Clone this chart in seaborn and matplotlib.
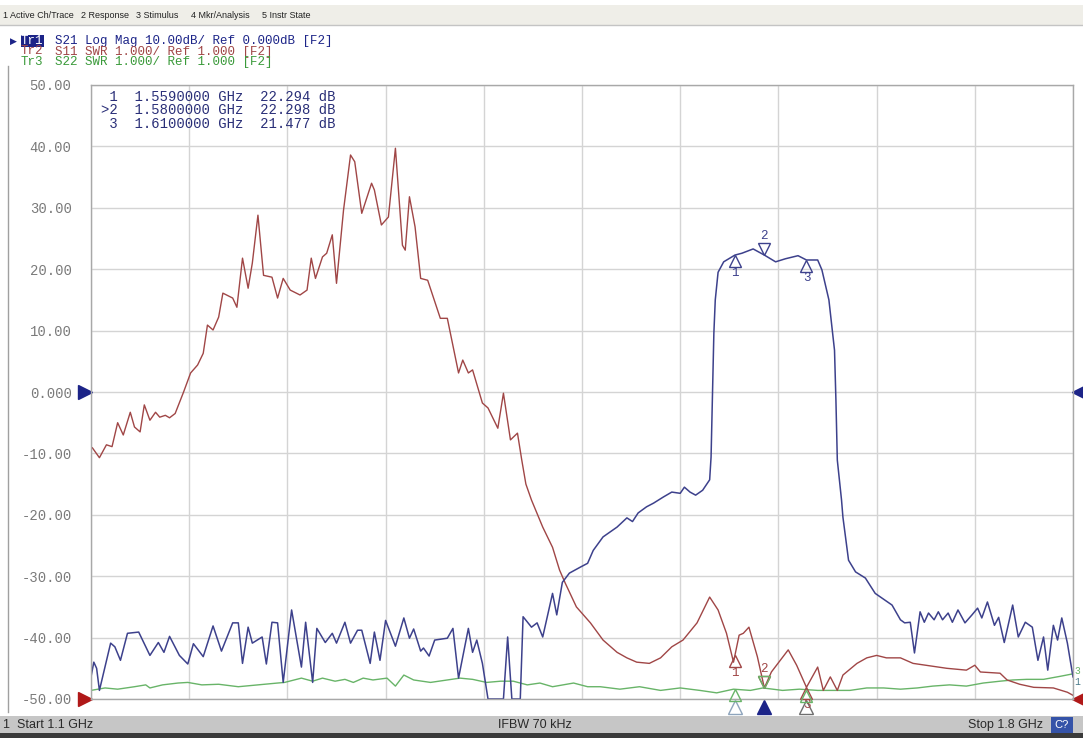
import numpy as np
import pandas as pd
import matplotlib
matplotlib.use("Agg")
import matplotlib.pyplot as plt
from matplotlib.patches import Rectangle
from matplotlib.transforms import offset_copy
import seaborn as sns

# --- trace data (GHz, dB) ---
s21_freq = [1.100, 1.102, 1.104, 1.106, 1.114, 1.117, 1.121, 1.126, 1.134, 1.142,
            1.148, 1.152, 1.156, 1.163, 1.169, 1.173, 1.180, 1.187, 1.193, 1.201,
            1.205, 1.208, 1.212, 1.215, 1.222, 1.225, 1.229, 1.233, 1.237, 1.243,
            1.250, 1.253, 1.258, 1.261, 1.267, 1.272, 1.275, 1.281, 1.285, 1.290,
            1.293, 1.299, 1.302, 1.306, 1.310, 1.317, 1.323, 1.327, 1.330, 1.335,
            1.337, 1.341, 1.345, 1.354, 1.358, 1.362, 1.369, 1.372, 1.375, 1.379,
            1.383, 1.394, 1.397, 1.400, 1.406, 1.408, 1.414, 1.418, 1.422, 1.429,
            1.432, 1.436, 1.441, 1.449, 1.454, 1.458, 1.465, 1.475, 1.482, 1.486,
            1.490, 1.496, 1.501, 1.508, 1.514, 1.520, 1.523, 1.527, 1.531, 1.536,
            1.541, 1.542, 1.543, 1.544, 1.545, 1.547, 1.551, 1.559, 1.564, 1.572,
            1.580, 1.588, 1.595, 1.604, 1.610, 1.618, 1.621, 1.626, 1.630, 1.631,
            1.632, 1.635, 1.636, 1.640, 1.645, 1.652, 1.659, 1.664, 1.671, 1.677,
            1.680, 1.684, 1.687, 1.691, 1.694, 1.697, 1.701, 1.704, 1.707, 1.711,
            1.714, 1.718, 1.723, 1.728, 1.732, 1.735, 1.739, 1.744, 1.747, 1.751,
            1.757, 1.761, 1.766, 1.771, 1.775, 1.779, 1.782, 1.786, 1.789, 1.792,
            1.796, 1.800]
s21_db = [-46.4, -44.0, -45.0, -48.6, -40.9, -41.5, -43.7, -39.3, -39.1, -42.9,
          -40.8, -42.4, -39.8, -42.9, -44.3, -41.0, -43.1, -38.1, -42.2, -37.6,
          -37.6, -44.2, -38.3, -40.9, -39.9, -44.3, -37.5, -37.6, -47.3, -35.5,
          -44.8, -37.5, -47.3, -38.5, -40.8, -39.3, -40.9, -37.5, -40.9, -38.8,
          -38.8, -44.2, -39.1, -43.7, -37.2, -41.4, -36.8, -40.1, -38.6, -42.2,
          -41.7, -43.0, -40.4, -40.1, -38.5, -46.6, -38.5, -42.4, -40.4, -44.2,
          -50.0, -50.0, -39.9, -50.0, -50.0, -36.6, -38.3, -37.6, -39.9, -32.8,
          -36.3, -31.0, -29.5, -28.5, -27.9, -25.8, -23.6, -22.0, -20.5, -21.1,
          -19.7, -18.7, -18.1, -17.1, -16.3, -16.5, -15.5, -16.3, -16.8, -16.0,
          -14.3, -10.6, -0.5, 9.6, 15.0, 19.5, 21.2, 22.3, 22.6, 23.3,
          22.3, 21.2, 21.7, 22.2, 21.5, 21.5, 19.9, 15.0, 6.8, -1.3,
          -11.1, -17.6, -20.4, -27.4, -29.3, -30.3, -32.8, -33.6, -34.7, -37.1,
          -37.6, -37.5, -42.5, -35.8, -37.5, -36.0, -37.1, -35.8, -37.1, -36.0,
          -37.5, -35.5, -37.6, -36.3, -35.2, -36.8, -34.2, -38.0, -36.7, -40.8,
          -34.7, -39.9, -37.5, -38.3, -43.7, -39.9, -45.3, -38.0, -40.4, -36.8,
          -40.9, -46.4]

s11_freq = [1.101, 1.106, 1.111, 1.115, 1.119, 1.123, 1.128, 1.131, 1.135, 1.138,
            1.142, 1.146, 1.149, 1.153, 1.156, 1.160, 1.166, 1.171, 1.176, 1.180,
            1.183, 1.187, 1.191, 1.194, 1.201, 1.204, 1.208, 1.212, 1.215, 1.219,
            1.223, 1.229, 1.233, 1.237, 1.242, 1.249, 1.254, 1.257, 1.260, 1.265,
            1.268, 1.272, 1.275, 1.280, 1.285, 1.288, 1.293, 1.300, 1.302, 1.307,
            1.312, 1.317, 1.322, 1.324, 1.327, 1.331, 1.335, 1.340, 1.349, 1.354,
            1.362, 1.365, 1.369, 1.372, 1.379, 1.383, 1.390, 1.394, 1.399, 1.404,
            1.407, 1.410, 1.414, 1.422, 1.429, 1.434, 1.438, 1.446, 1.456, 1.465,
            1.475, 1.482, 1.489, 1.498, 1.506, 1.514, 1.522, 1.532, 1.541, 1.547,
            1.553, 1.558, 1.562, 1.565, 1.569, 1.575, 1.580, 1.585, 1.597, 1.603,
            1.610, 1.618, 1.622, 1.627, 1.632, 1.636, 1.646, 1.653, 1.660, 1.667,
            1.677, 1.686, 1.698, 1.710, 1.724, 1.730, 1.734, 1.748, 1.753, 1.762,
            1.772, 1.786, 1.796, 1.800]
s11_db = [-9.1, -10.7, -8.6, -8.9, -5.0, -7.0, -3.3, -5.7, -6.5, -2.1,
          -4.6, -3.3, -4.1, -3.8, -4.2, -3.5, 0.0, 3.1, 4.4, 6.3,
          10.9, 10.1, 12.2, 16.1, 15.3, 13.8, 21.8, 16.9, 21.0, 28.8,
          19.0, 18.7, 15.3, 18.5, 16.6, 15.8, 16.6, 21.8, 18.5, 22.0,
          22.6, 25.6, 17.7, 29.6, 38.6, 37.5, 29.1, 34.0, 32.9, 27.2,
          28.5, 39.7, 23.9, 23.1, 31.8, 26.9, 18.5, 18.2, 12.0, 12.0,
          3.1, 5.2, 3.1, 3.6, -1.8, -2.6, -5.9, -0.2, -7.8, -6.7,
          -11.0, -15.0, -17.6, -22.0, -25.3, -29.0, -31.1, -35.0, -37.6, -40.4,
          -42.4, -43.3, -44.0, -44.2, -43.3, -41.5, -40.4, -37.6, -33.4, -35.5,
          -39.3, -44.0, -39.6, -39.3, -38.3, -43.1, -48.2, -45.6, -42.0, -44.5,
          -48.1, -44.8, -48.6, -46.4, -48.6, -46.1, -44.2, -43.3, -42.9, -43.3,
          -43.3, -44.2, -44.6, -45.0, -45.3, -44.5, -45.6, -45.8, -46.9, -47.6,
          -48.1, -48.2, -48.9, -49.4]

s22_freq = [1.100, 1.110, 1.119, 1.131, 1.139, 1.142, 1.151, 1.162, 1.169, 1.179,
            1.191, 1.205, 1.219, 1.233, 1.238, 1.250, 1.258, 1.265, 1.274, 1.281,
            1.287, 1.294, 1.301, 1.311, 1.317, 1.323, 1.330, 1.342, 1.354, 1.363,
            1.372, 1.382, 1.392, 1.401, 1.411, 1.420, 1.429, 1.444, 1.454, 1.463,
            1.477, 1.491, 1.506, 1.520, 1.534, 1.546, 1.558, 1.570, 1.579, 1.593,
            1.605, 1.618, 1.629, 1.641, 1.653, 1.665, 1.677, 1.689, 1.700, 1.712,
            1.724, 1.736, 1.748, 1.757, 1.767, 1.779, 1.791, 1.800]
s22_db = [-48.6, -48.2, -48.4, -48.0, -47.7, -48.2, -47.7, -47.4, -47.3, -47.7,
          -47.6, -48.0, -47.7, -47.4, -47.3, -46.6, -47.1, -46.6, -47.1, -46.8,
          -47.3, -46.6, -46.9, -46.6, -47.9, -46.1, -46.9, -47.3, -46.9, -46.6,
          -46.8, -47.3, -47.1, -47.1, -47.7, -47.4, -48.0, -47.4, -48.0, -48.0,
          -48.4, -48.0, -48.6, -48.2, -48.6, -49.0, -48.4, -48.6, -48.2, -48.6,
          -48.4, -48.6, -48.6, -48.6, -48.2, -48.2, -48.4, -48.2, -47.9, -47.7,
          -47.9, -47.4, -47.1, -46.9, -46.8, -46.8, -46.3, -45.9]

# marker table
mkr_num = ["1", "2", "3"]
mkr_freq = [1.559, 1.580, 1.610]
mkr_db = [22.294, 22.298, 21.477]
active_mkr = 1

ytick_vals = [50, 40, 30, 20, 10, 0, -10, -20, -30, -40, -50]
ytick_text = ["50.00", "40.00", "30.00", "20.00", "10.00", "0.000",
              "-10.00", "-20.00", "-30.00", "-40.00", "-50.00"]

menu_items = ["1 Active Ch/Trace", "2 Response", "3 Stimulus", "4 Mkr/Analysis", "5 Instr State"]
trace_names = ["Tr1", "Tr2", "Tr3"]
trace_titles = ["S21 Log Mag 10.00dB/ Ref 0.000dB [F2]",
                "S11 SWR 1.000/ Ref 1.000 [F2]",
                "S22 SWR 1.000/ Ref 1.000 [F2]"]

BLUE = "#3d418c"
RED = "#a04646"
GREEN = "#68b468"
NAVY = "#1c2488"
MONO = "Liberation Mono"
SANS = "Liberation Sans"

W, H = 1083, 738


def fx(x):
    return x / W


def fy(y):
    return 1 - y / H


fig = plt.figure(figsize=(W / 100, H / 100), dpi=100)
fig.patch.set_facecolor("white")
ax = fig.add_axes([fx(91), fy(699), 982 / W, 614 / H])

df21 = pd.DataFrame({"freq": s21_freq, "db": s21_db})
df11 = pd.DataFrame({"freq": s11_freq, "db": s11_db})
df22 = pd.DataFrame({"freq": s22_freq, "db": s22_db})

sns.lineplot(data=df22, x="freq", y="db", ax=ax, color=GREEN, lw=1.0, estimator=None, sort=False)
sns.lineplot(data=df11, x="freq", y="db", ax=ax, color=RED, lw=1.0, estimator=None, sort=False)
sns.lineplot(data=df21, x="freq", y="db", ax=ax, color=BLUE, lw=1.1, estimator=None, sort=False)

ax.set_xlim(1.1, 1.8)
ax.set_ylim(-50, 50)
ax.set_xlabel("")
ax.set_ylabel("")
ax.set_xticks(np.linspace(1.1, 1.8, 11))
ax.set_xticklabels([])
ax.set_yticks(ytick_vals)
ax.set_yticklabels(ytick_text, family=MONO, fontsize=10, color="#7a7a7a")
ax.tick_params(axis="both", length=0)
ax.tick_params(axis="y", pad=14)
ax.grid(True, color="#d4d4d4", lw=1.0)
ax.set_axisbelow(True)
for sp in ax.spines.values():
    sp.set_color("#a8a8a8")
    sp.set_linewidth(1.0)


# --- marker glyphs on the traces ---
def draw_marker(f, v, num, color, active, label=True):
    dy = 6 if active else -6
    tri = offset_copy(ax.transData, fig=fig, x=0, y=dy, units="dots")
    ax.plot([f], [v], marker="v" if active else "^", ms=8, mfc="none", mec=color,
            mew=1.0, transform=tri, clip_on=False, zorder=5)
    if label:
        lab = offset_copy(ax.transData, fig=fig, x=0, y=(19 if active else -18), units="dots")
        ax.text(f, v, num, transform=lab, ha="center", va="center", color=color,
                fontsize=9, family=MONO, zorder=5)


for i, f in enumerate(mkr_freq):
    act = i == active_mkr
    draw_marker(f, mkr_db[i], mkr_num[i], BLUE, act)
    draw_marker(f, np.interp(f, s11_freq, s11_db), mkr_num[i], RED, act)
    draw_marker(f, np.interp(f, s22_freq, s22_db), mkr_num[i], GREEN, act, label=False)

# stimulus markers under the grid
bottom_tr = offset_copy(ax.get_xaxis_transform(), fig=fig, x=0, y=-8, units="dots")
bottom_cols = ["#8ea4bc", NAVY, "#6e6e6e"]
for i, f in enumerate(mkr_freq):
    act = i == active_mkr
    ax.plot([f], [0], transform=bottom_tr, marker="^", ms=10,
            mfc=NAVY if act else "none", mec=bottom_cols[i], mew=1.0, clip_on=False)

# reference level arrows
ax.plot([-0.006], [0], transform=ax.get_yaxis_transform(), marker=">", ms=10,
        color=NAVY, clip_on=False)
ax.plot([1.006], [0], transform=ax.get_yaxis_transform(), marker="<", ms=10,
        color=NAVY, clip_on=False)
ax.plot([-0.006], [-50], transform=ax.get_yaxis_transform(), marker=">", ms=10,
        color="#b01818", clip_on=False)
ax.plot([1.006], [-50], transform=ax.get_yaxis_transform(), marker="<", ms=10,
        color="#b01818", clip_on=False)

# marker readout table
for i in range(3):
    prefix = ">" if i == active_mkr else " "
    line = f"{prefix}{mkr_num[i]}  {mkr_freq[i]:.7f} GHz  {mkr_db[i]:.3f} dB"
    fig.text(fx(101), fy(97 + 13.5 * i), line, family=MONO, fontsize=10,
             color="#2a2f78", va="center", ha="left")

# --- window chrome: menu bar, trace header, status bar ---
fig.patches.append(Rectangle((0, fy(25)), 1, 20 / H, transform=fig.transFigure,
                             facecolor="#efeee8", edgecolor="none", zorder=0))
fig.add_artist(plt.Line2D([0, 1], [fy(25), fy(25)], color="#c4c4c4", lw=1))
menu_x = [3, 81, 136, 191, 262]
for x, t in zip(menu_x, menu_items):
    fig.text(fx(x), fy(15), t, family=SANS, fontsize=6.5, color="#222222", va="center")

fig.add_artist(plt.Line2D([fx(8), fx(8)], [fy(66), fy(712)], color="#a0a0a0", lw=1))

head_cols = [NAVY, RED, "#3a9a3a"]
fig.text(fx(10), fy(41), "\u25b6", family="DejaVu Sans", fontsize=6.5, color=NAVY, va="center")
for i in range(3):
    yy = fy(41 + 10.5 * i)
    if i == 0:
        fig.text(fx(21), yy, trace_names[i], family=MONO, fontsize=9, color="white",
                 va="center", bbox=dict(facecolor=NAVY, edgecolor="none", pad=0.2))
    else:
        fig.text(fx(21), yy, trace_names[i], family=MONO, fontsize=9, color=head_cols[i], va="center")
    fig.text(fx(55), yy, trace_titles[i], family=MONO, fontsize=9, color=head_cols[i], va="center")

fig.text(fx(1077), fy(671), "3", family=MONO, fontsize=7, color=GREEN, va="center", ha="center")
fig.text(fx(1077), fy(682), "1", family=MONO, fontsize=7, color="#4a7a8a", va="center", ha="center")

fig.patches.append(Rectangle((0, fy(733)), 1, 17 / H, transform=fig.transFigure,
                             facecolor="#c6c6c6", edgecolor="none", zorder=0))
fig.patches.append(Rectangle((0, 0), 1, 5 / H, transform=fig.transFigure,
                             facecolor="#3a3a3a", edgecolor="none", zorder=0))
fig.text(fx(3), fy(725), "1  Start 1.1 GHz", family=SANS, fontsize=9, color="#2a2a2a", va="center")
fig.text(fx(498), fy(725), "IFBW 70 kHz", family=SANS, fontsize=9, color="#2a2a2a", va="center")
fig.text(fx(1043), fy(725), "Stop 1.8 GHz", family=SANS, fontsize=9, color="#2a2a2a",
         va="center", ha="right")
fig.text(fx(1062), fy(725), "C?", family=SANS, fontsize=8, color="white", va="center", ha="center",
         bbox=dict(facecolor="#3553a8", edgecolor="none", pad=2.5))

fig.savefig("out.png", dpi=100, facecolor="white")
